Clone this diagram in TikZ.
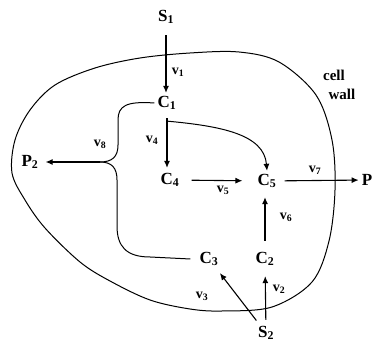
\documentclass[tikz,border=0pt]{standalone}
\usepackage{fontspec}
\setmainfont{Liberation Serif}
\usetikzlibrary{arrows.meta,calc}
\begin{document}
\begin{tikzpicture}[x=1pt,y=-1pt,
  nd/.style={font=\fontsize{17}{19}\selectfont\bfseries, inner sep=3pt},
  lb/.style={font=\fontsize{14}{16}\selectfont\bfseries, inner sep=0pt},
  wl/.style={font=\fontsize{15}{17}\selectfont\bfseries, inner sep=0pt},
  arr/.style={-{Latex[length=7pt,width=6pt]}, line width=1.1pt},
  ln/.style={line width=1pt}]
\useasboundingbox (0,0) rectangle (378,347);
% cell wall
\draw[ln] plot[smooth cycle, tension=0.55] coordinates {
 (190,53) (239,52) (279,62) (316,95) (332,140) (335,190) (329,241) (312,282)
 (272,307) (222,311) (190,309) (150,300) (110,281) (80,262) (45,228) (25,200)
 (12,173) (15,140) (30,110) (55,85) (95,68) (140,58)};
\node[wl] (cw1) at (334,75) {cell};
\node[wl] (cw2) at (342,94) {wall};
% nodes
\node[nd] (S1) at (166,17) {S\textsubscript{1}};
\node[nd] (C1) at (167,103) {C\textsubscript{1}};
\node[nd] (C4) at (170,180) {C\textsubscript{4}};
\node[nd] (C5) at (267,181) {C\textsubscript{5}};
\node[nd] (P) at (367,180) {P};
\node[nd] (P2) at (30,162) {P\textsubscript{2}};
\node[nd] (C3) at (209,259) {C\textsubscript{3}};
\node[nd] (C2) at (265,259) {C\textsubscript{2}};
\node[nd] (S2) at (266,333) {S\textsubscript{2}};
% arrows
\draw[arr, shorten <=8pt] (S1) -- (S1 |- C1.north);
\draw[arr, shorten <=5pt, shorten >=2pt] (C1) -- (C1 |- C4.north);
\draw[arr, line width=1pt] ([yshift=-8pt]C1.south) .. controls (220,126) and (264,134) .. (C5.north);
\draw[arr, shorten <=9pt, shorten >=12pt] (C4) -- (C5);
\draw[arr, shorten <=5pt] (C5) -- (P);
\draw[arr, shorten <=8pt, shorten >=6pt] (C2) -- (C2 |- C5.south);
\draw[arr, shorten <=3pt, shorten >=7pt] (S2) -- (C2);
\draw[arr, shorten <=3pt, shorten >=5pt] (S2) -- (C3);
% brace to P2
\coordinate (J) at (100,162);
\draw[ln] (C1.west) .. controls (126,101) and (118,106) .. (118,120) -- (118,145)
   .. controls (118,157) and (112,162) .. (J);
\draw[ln] ([xshift=-6pt]C3.west) -- (150,257) .. controls (126,257) and (117,246) .. (117,226)
   -- (117,180) .. controls (117,168) and (112,162) .. (J);
\draw[arr, shorten >=4pt] (J) -- (P2);
% labels
\node[lb] (v1) at (178,72) {v\textsubscript{1}};
\node[lb] (v4) at (152,140) {v\textsubscript{4}};
\node[lb] (v5) at (223,190) {v\textsubscript{5}};
\node[lb] (v7) at (315,170) {v\textsubscript{7}};
\node[lb] (v6) at (286,217) {v\textsubscript{6}};
\node[lb] (v2) at (279,289) {v\textsubscript{2}};
\node[lb] (v3) at (202,296) {v\textsubscript{3}};
\node[lb] (v8) at (100,144) {v\textsubscript{8}};
\end{tikzpicture}
\end{document}
